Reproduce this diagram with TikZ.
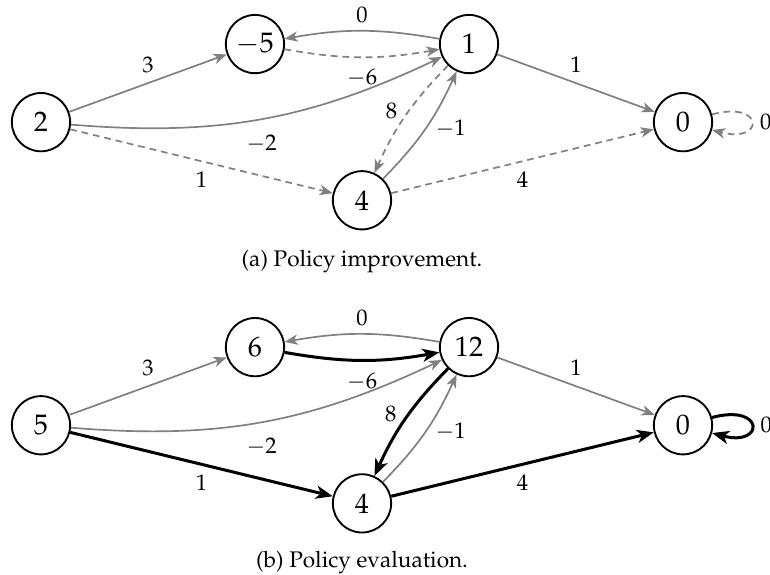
\documentclass[tikz,12pt,border=0pt]{standalone}
\usepackage[T1]{fontenc}
\usepackage{mathpazo}
\usetikzlibrary{arrows.meta}

\begin{document}
\begin{tikzpicture}[x=2cm, y=1.46cm,
    state/.style={circle, draw, line width=1pt, minimum size=31pt, inner sep=0pt,
      font=\fontsize{15}{17}\selectfont},
    other/.style={draw=gray, line width=0.9pt, -{Stealth[length=7pt, width=5.5pt, inset=2pt]}},
    greedy/.style={other, dash pattern=on 3.6pt off 2.6pt},
    chosen/.style={draw=black, line width=1.6pt, -{Stealth[length=9pt, width=7pt, inset=2.5pt]}},
    selfloop/.style={loop right, looseness=9}]
  \useasboundingbox (-0.383, 1.564) rectangle (6.813, -5.795);

  \node[state] (a2) at (0, 0) {$2$};
  \node[state] (am5) at (2, 1) {$-5$};
  \node[state] (a1) at (4, 1) {$1$};
  \node[state] (a4) at (3, -1) {$4$};
  \node[state] (a0) at (6, 0) {$0$};

  \draw[other] (a2) -- node[above=1pt] {3} (am5);
  \draw[other] (a1) to[bend right=10] node[above] {0} (am5);
  \draw[greedy] (am5) to[bend right=10] node[below=2pt] {$-6$} (a1);
  \draw[other] (a2) to[bend right=15] node[below=4pt, pos=0.5] {$-2$} (a1);
  \draw[other] (a1) -- node[above=1pt] {1} (a0);
  \draw[greedy] (a2) -- node[below=1pt] {1} (a4);
  \draw[greedy] (a1) to[bend right=10] node[left=2pt, pos=0.45] {8} (a4);
  \draw[other] (a4) to[bend right=10] node[right=1pt] {$-1$} (a1);
  \draw[greedy] (a4) -- node[below=1pt] {4} (a0);
  \draw[greedy] (a0) to[selfloop] node[right] {0} (a0);

  \node (capa) at (3, -1.846) [anchor=base] {(a) Policy improvement.};

  \node[state] (b5) at (0, -3.88) {$5$};
  \node[state] (b6) at (2, -2.88) {$6$};
  \node[state] (b12) at (4, -2.88) {$12$};
  \node[state] (b4) at (3, -4.88) {$4$};
  \node[state] (b0) at (6, -3.88) {$0$};

  \draw[other] (b5) -- node[above=1pt] {3} (b6);
  \draw[other] (b12) to[bend right=10] node[above] {0} (b6);
  \draw[chosen] (b6) to[bend right=10] node[below=2pt] {$-6$} (b12);
  \draw[other] (b5) to[bend right=15] node[below=4pt, pos=0.5] {$-2$} (b12);
  \draw[other] (b12) -- node[above=1pt] {1} (b0);
  \draw[chosen] (b5) -- node[below=1pt] {1} (b4);
  \draw[chosen] (b12) to[bend right=10] node[left=2pt, pos=0.45] {8} (b4);
  \draw[other] (b4) to[bend right=10] node[right=1pt] {$-1$} (b12);
  \draw[chosen] (b4) -- node[below=1pt] {4} (b0);
  \draw[chosen] (b0) to[selfloop] node[right] {0} (b0);

  \node (capb) at (3, -5.705) [anchor=base] {(b) Policy evaluation.};
\end{tikzpicture}
\end{document}
